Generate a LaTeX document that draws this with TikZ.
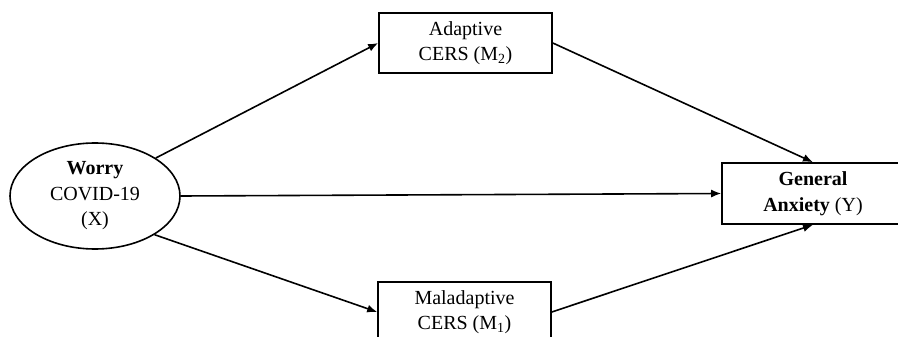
\documentclass[tikz,border=0pt]{standalone}
\usepackage{fontspec}
\setmainfont{Liberation Serif}
\usetikzlibrary{arrows.meta,shapes.geometric}
\tikzset{
  base/.style={draw=black, line width=1.6pt, align=center, inner sep=0pt,
    font=\fontsize{20}{25.5}\selectfont},
  boxnode/.style={base, rectangle, minimum width=173pt, minimum height=60pt},
  ovalnode/.style={base, ellipse, minimum width=170pt, minimum height=106pt},
  conn/.style={line width=1.6pt, -{Latex[length=10pt,width=8pt]}}
}
\begin{document}
\begin{tikzpicture}[x=1pt,y=-1pt]
\useasboundingbox (0,0) rectangle (898,337);
\clip (0,0) rectangle (898,337);
\fill[white] (0,0) rectangle (898,337);
\node[ovalnode] (X) at (95,196) {\textbf{Worry}\\COVID-19\\(X)};
\node[boxnode] (M2) at (465.5,43) {Adaptive\\CERS (M\textsubscript{2})};
\node[boxnode] (M1) at (464.5,312) {Maladaptive\\CERS (M\textsubscript{1})};
\node[boxnode, minimum width=182pt, minimum height=61pt] (Y) at (813,193.5) {\textbf{General}\\\textbf{Anxiety} (Y)};
\draw[conn] (X.32) -- (M2.west);
\draw[conn] (X.-33) -- (M1.west);
\draw[conn] (X.east) -- (Y.west);
\draw[conn] (M2.east) -- (Y.north);
\draw[conn] (M1.east) -- (Y.south);
\end{tikzpicture}
\end{document}
